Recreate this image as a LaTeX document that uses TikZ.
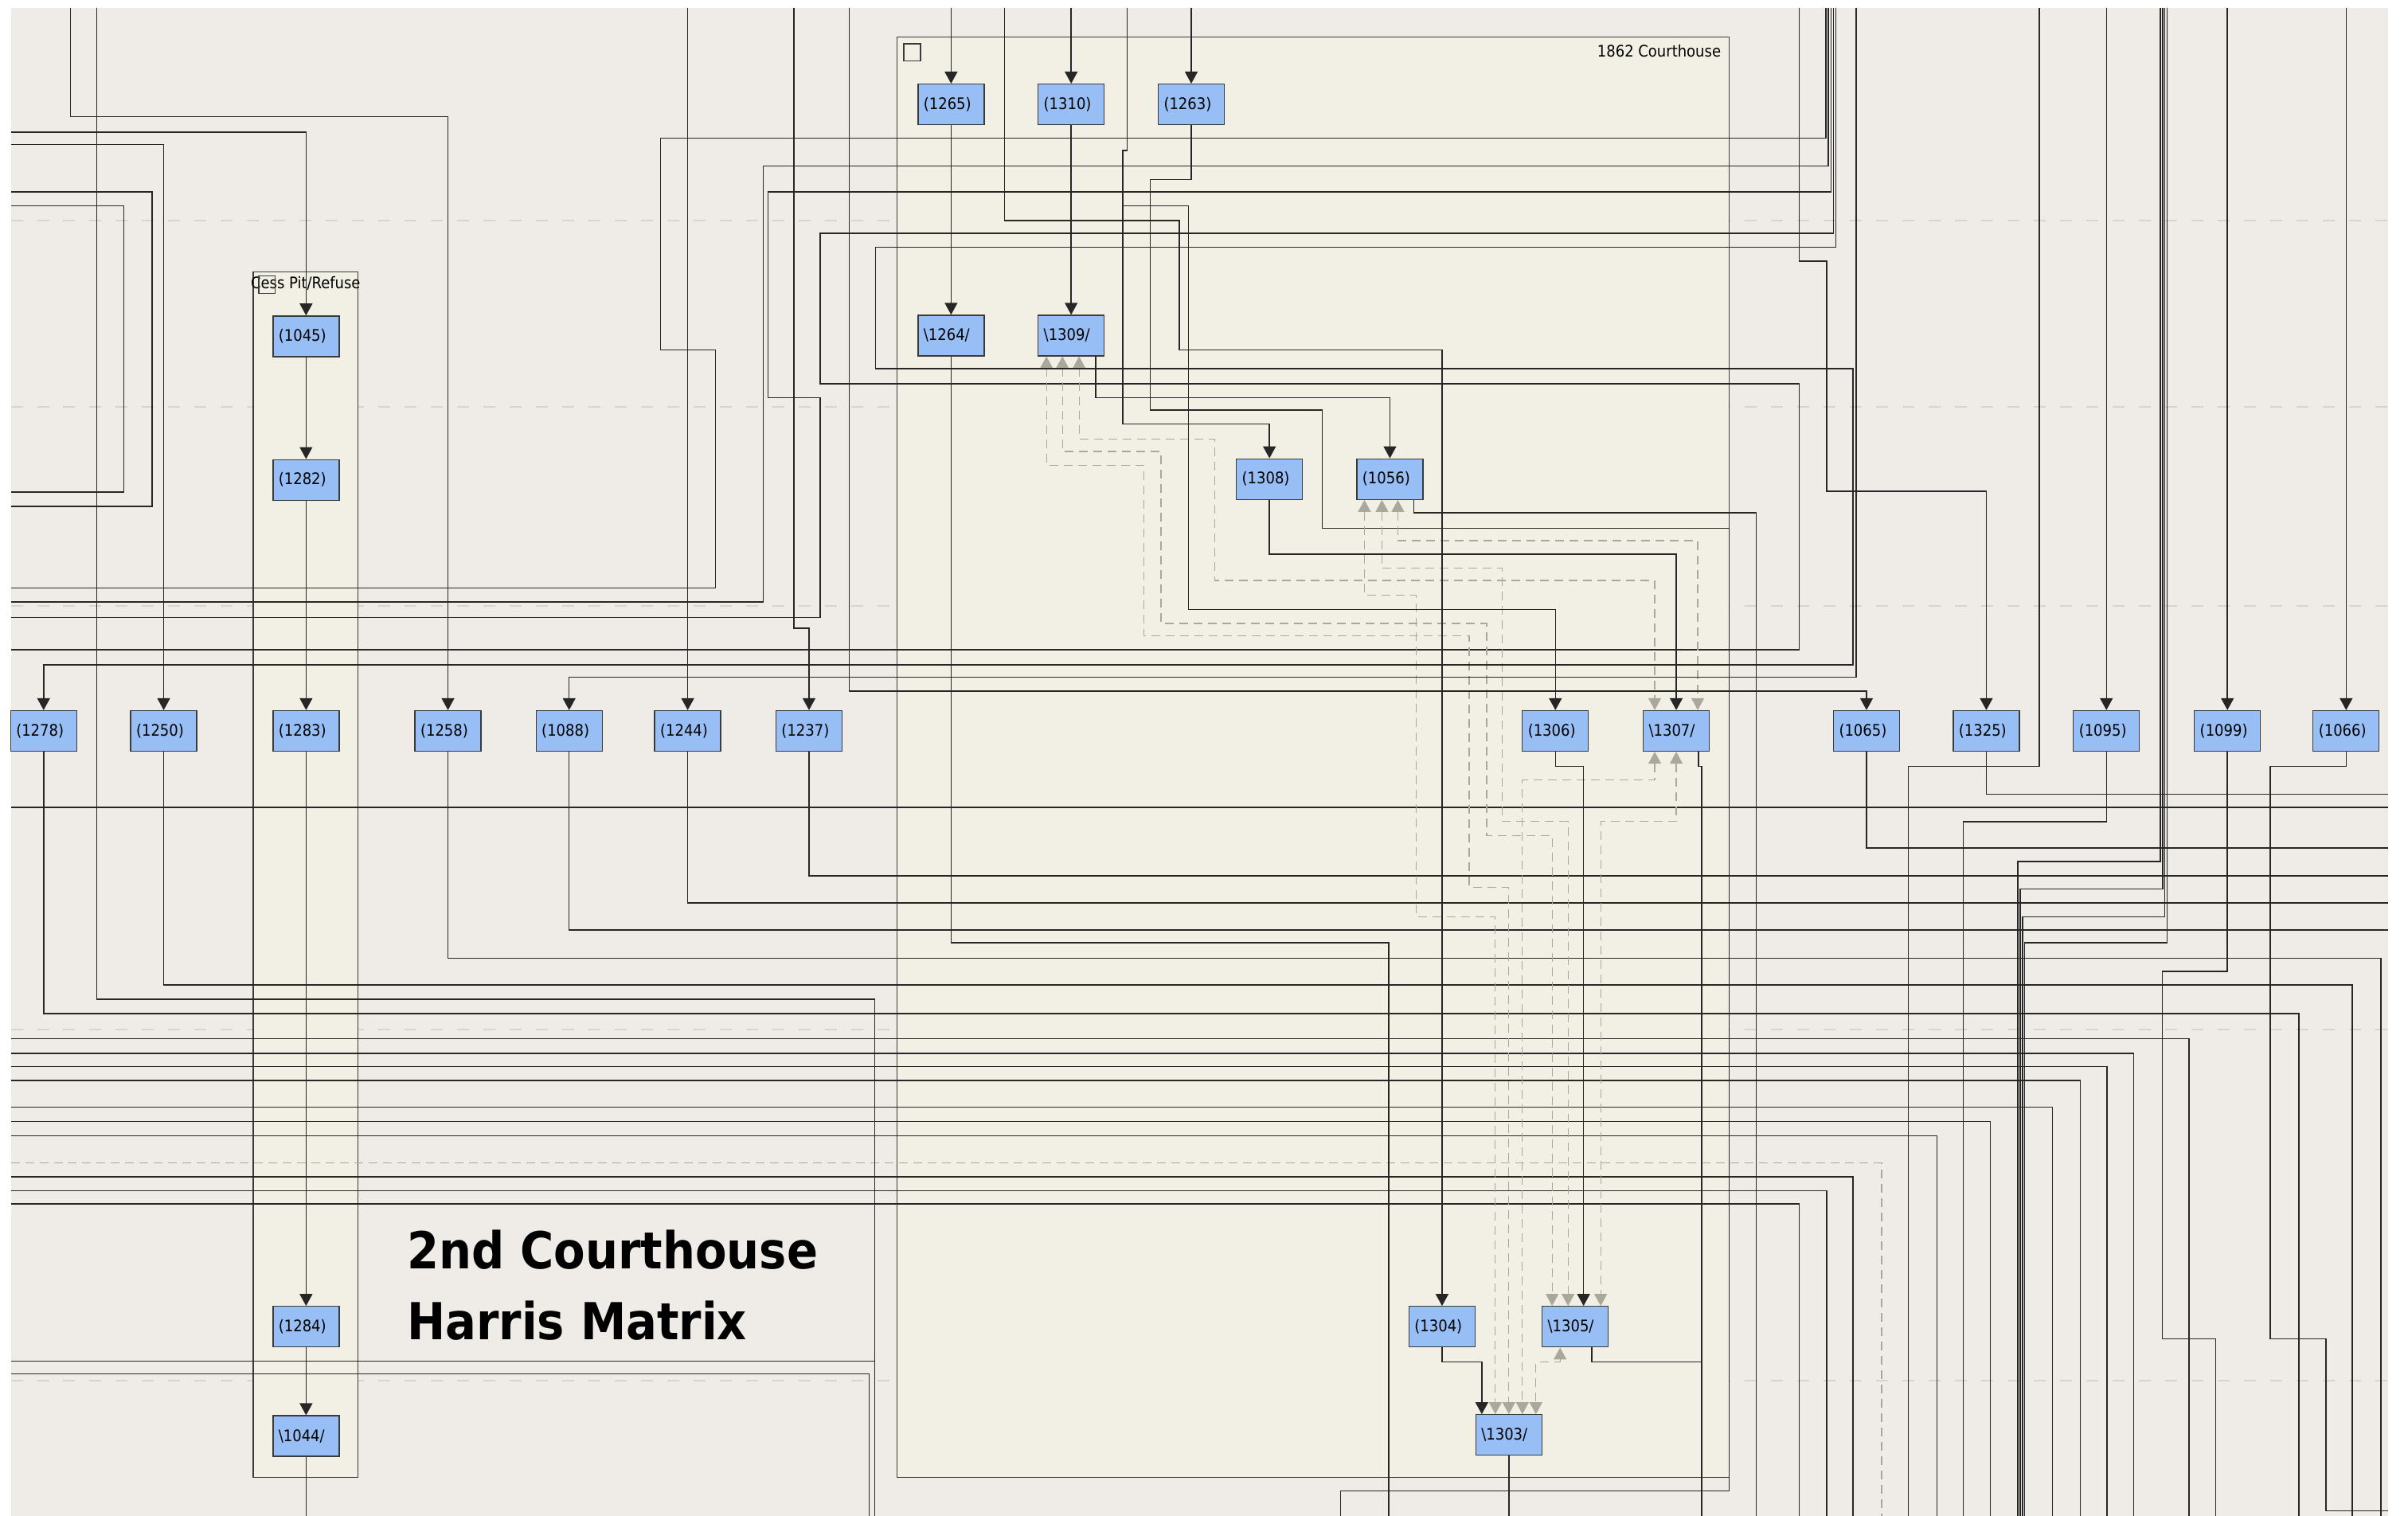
\documentclass[tikz,border=0pt]{standalone}
\usepackage{fontspec}
\usepackage{tikz}
\usetikzlibrary{arrows.meta,positioning,fit,calc}
\newfontfamily\labelfont{DejaVu Sans Condensed}
\newfontfamily\headfont{DejaVu Sans Condensed Bold}
\definecolor{paper}{HTML}{EFEBE6}
\definecolor{grpfill}{HTML}{F2F0E5}
\definecolor{boxfill}{HTML}{97BEF5}
\definecolor{boxline}{HTML}{3A3A3A}
\definecolor{wirecol}{HTML}{262626}
\definecolor{ghostcol}{HTML}{A9A89B}
\definecolor{bandcol}{HTML}{D6D4CC}
\tikzset{
  ctx/.style={draw=boxline,fill=boxfill,line width=1.3pt,text width=69pt,align=left,inner xsep=7pt,inner ysep=0pt,minimum height=51pt,font=\labelfont\fontsize{20}{22}\selectfont},
  grp/.style={draw=boxline,fill=grpfill,line width=1.5pt,inner sep=0pt},
  grplabel/.style={inner sep=0pt,font=\labelfont\fontsize{20}{22}\selectfont},
  wire/.style={draw=wirecol,line width=1.5pt},
  link/.style={wire,-{Triangle[length=15pt,width=16pt]}},
  ghost/.style={draw=ghostcol,line width=1.3pt,dash pattern=on 11pt off 7pt,{Triangle[length=15pt,width=16pt]}-{Triangle[length=15pt,width=16pt]}},
  ghostwire/.style={draw=ghostcol,line width=1.3pt,dash pattern=on 11pt off 7pt},
  band/.style={draw=bandcol,line width=2pt,dash pattern=on 15pt off 18pt},
  headline/.style={inner sep=0pt,anchor=base west,font=\headfont\fontsize{64}{89}\selectfont}
}

\begin{document}
\begin{tikzpicture}[x=1.9286pt,y=-1.9286pt]
  \useasboundingbox (0,0) rectangle (1568,987);
  \fill[white] (0,0) rectangle (1568,987);
  \fill[paper] (7,5) rectangle (1555,987);
  % phase bands
  \draw[band] (7,143.5) -- (1555,143.5);
  \draw[band] (7,265) -- (1555,265);
  \draw[band] (7,394.6) -- (1555,394.6);
  \draw[band] (7,670.3) -- (1555,670.3);
  \draw[band] (7,899) -- (1555,899);
  % groups
  \node[grp,fit={(584,24) (1126,962)}] (courthouse) {};
  \node[grp,fit={(165,177) (233,962)}] (cesspit) {};
  \node[grplabel,anchor=base east] (courthouselbl) at ([xshift=-11pt,yshift=-26pt]courthouse.north east) {1862 Courthouse};
  \draw[boxline,line width=1.3pt] (588.5,28.5) rectangle (599.4,39.8);
  \node[grplabel] (cesslbl) at ([yshift=-15pt]cesspit.north) {Cess Pit/Refuse};
  \draw[boxline,line width=1.3pt] (168.5,179.8) rectangle (179.2,191);
  \node[headline] (title) at (265,826) {2nd Courthouse};
  \node[headline] (subtitle) at ([yshift=-89pt]title.base west) {Harris Matrix};

  % contexts
  \node[ctx] (n1265) at (619.3,68) {(1265)};
  \node[ctx] (n1310) at (697.5,68) {(1310)};
  \node[ctx] (n1263) at (775.7,68) {(1263)};
  \node[ctx,below=238pt of n1265] (n1264) {\textbackslash1264/};
  \node[ctx,below=238pt of n1310] (n1309) {\textbackslash1309/};
  \node[ctx] (n1308) at (826.6,312) {(1308)};
  \node[ctx,right=67pt of n1308] (n1056) {(1056)};
  \node[ctx] (n1045) at (199.3,219) {(1045)};
  \node[ctx,below=128pt of n1045] (n1282) {(1282)};
  \node[ctx] (n1278) at (28.4,476) {(1278)};
  \node[ctx] (n1250) at (106.6,476) {(1250)};
  \node[ctx] (n1283) at (199.3,476) {(1283)};
  \node[ctx] (n1258) at (291.7,476) {(1258)};
  \node[ctx] (n1088) at (370.6,476) {(1088)};
  \node[ctx] (n1244) at (447.8,476) {(1244)};
  \node[ctx] (n1237) at (526.8,476) {(1237)};
  \node[ctx] (n1306) at (1012.8,476) {(1306)};
  \node[ctx] (n1307) at (1091.5,476) {\textbackslash1307/};
  \node[ctx] (n1065) at (1215.4,476) {(1065)};
  \node[ctx] (n1325) at (1293.4,476) {(1325)};
  \node[ctx] (n1095) at (1371.6,476) {(1095)};
  \node[ctx] (n1099) at (1450.4,476) {(1099)};
  \node[ctx] (n1066) at (1527.7,476) {(1066)};
  \node[ctx] (n1284) at (199.3,864) {(1284)};
  \node[ctx,below=85pt of n1284] (n1044) {\textbackslash1044/};
  \node[ctx] (n1304) at (939,864) {(1304)};
  \node[ctx] (n1305) at (1025.7,864) {\textbackslash1305/};
  \node[ctx] (n1303) at (982.5,934.5) {\textbackslash1303/};

  % off-sheet ends
  \coordinate (t46) at (46,5);  \coordinate (t63) at (63,5);  \coordinate (t448) at (447.8,5);
  \coordinate (t517) at (517,5);  \coordinate (t553) at (553,5);  \coordinate (t619) at (619.3,5);
  \coordinate (t654) at (654,5);  \coordinate (t697) at (697.5,5);  \coordinate (t734) at (734,5);
  \coordinate (t775) at (775.7,5);  \coordinate (t1172) at (1171.7,5);  \coordinate (t1189) at (1189,5);
  \coordinate (t1191) at (1190.6,5);  \coordinate (t1192) at (1192.2,5);  \coordinate (t1194) at (1193.8,5);
  \coordinate (t1195) at (1195.4,5);  \coordinate (t1208) at (1208.7,5);  \coordinate (t1328) at (1328,5);
  \coordinate (t1372) at (1371.6,5);  \coordinate (t1407) at (1406.8,5);  \coordinate (t1408) at (1408.2,5);
  \coordinate (t1410) at (1409.6,5);  \coordinate (t1411) at (1411,5);  \coordinate (t1450) at (1450.4,5);
  \coordinate (t1528) at (1527.7,5);
  \coordinate (w86) at (7,86);  \coordinate (w94) at (7,94);  \coordinate (w125) at (7,125);
  \coordinate (w134) at (7,134);  \coordinate (w320) at (7,320.5);  \coordinate (w330) at (7,329.7);
  \coordinate (w383) at (7,383);  \coordinate (w392) at (7,392);  \coordinate (w402) at (7,402);
  \coordinate (w423) at (7,423);  \coordinate (w526) at (7,525.8);  \coordinate (w676) at (7,676.4);
  \coordinate (w686) at (7,686);  \coordinate (w694) at (7,694.5);  \coordinate (w704) at (7,703.6);
  \coordinate (w721) at (7,721);  \coordinate (w730) at (7,730.3);  \coordinate (w740) at (7,739.7);
  \coordinate (w757) at (7,757.2);  \coordinate (w766) at (7,766.3);  \coordinate (w775) at (7,775.4);
  \coordinate (w784) at (7,784);  \coordinate (w886) at (7,886.3);  \coordinate (w895) at (7,894.8);
  \coordinate (e517) at (1555,517.2);  \coordinate (e526) at (1555,525.8);  \coordinate (e552) at (1555,552.3);
  \coordinate (e570) at (1555,570.4);  \coordinate (e588) at (1555,588);  \coordinate (e606) at (1555,605.5);
  \coordinate (e984) at (1555,984);
  \coordinate (b199) at (199.3,987);  \coordinate (b566) at (566,987);  \coordinate (b570) at (569.6,987);
  \coordinate (b873) at (873,987);  \coordinate (b904) at (904.3,987);  \coordinate (b982) at (982.5,987);
  \coordinate (b1108) at (1108,987);  \coordinate (b1144) at (1143.7,987);  \coordinate (b1172) at (1171.7,987);
  \coordinate (b1189) at (1189.4,987);  \coordinate (b1207) at (1206.7,987);  \coordinate (b1225) at (1225.2,987);
  \coordinate (b1243) at (1242.5,987);  \coordinate (b1261) at (1261.3,987);  \coordinate (b1278) at (1278.4,987);
  \coordinate (b1296) at (1296,987);  \coordinate (b1314) at (1314,987);  \coordinate (b1315) at (1315.5,987);
  \coordinate (b1317) at (1316.9,987);  \coordinate (b1318) at (1318.4,987);  \coordinate (b1337) at (1336.5,987);
  \coordinate (b1355) at (1354.7,987);  \coordinate (b1372) at (1372,987);  \coordinate (b1389) at (1389.4,987);
  \coordinate (b1426) at (1425.5,987);  \coordinate (b1443) at (1442.8,987);  \coordinate (b1497) at (1497,987);
  \coordinate (b1532) at (1531.8,987);  \coordinate (b1550) at (1550.3,987);
  \coordinate (split) at (731,134);

  % through-running wires
  \draw[wire] (w125) -| (99,329.7) -- (w330);
  \draw[wire] (w134) -| (80.6,320.5) -- (w320);
  \draw[wire] (w383) -| (466,228) -| (430,90) -| (t1189);
  \draw[wire] (w392) -| (497,108) -| (t1191);
  \draw[wire] (w402) -| (534,259) -| (500,125) -| (t1192);
  \draw[wire] (w423) -| (1171.7,250) -| (534,152) -| (t1194);
  \draw[wire] (w526) -- (e526);
  \draw[wire] (w676) -| (b1426);
  \draw[wire] (w686) -| (b1389);
  \draw[wire] (w694) -| (b1372);
  \draw[wire] (w704) -| (b1355);
  \draw[wire] (w721) -| (b1337);
  \draw[wire] (w730) -| (b1296);
  \draw[wire] (w740) -| (b1261);
  \draw[ghostwire] (w757) -| (b1225);
  \draw[wire] (w766) -| (b1207);
  \draw[wire] (w775) -| (b1189);
  \draw[wire] (w784) -| (b1172);
  \draw[wire] (w886) -| (b570);
  \draw[wire] (w895) -| (b566);
  \draw[wire] (t63) |- (300,650.7) -| (b570);
  \draw[wire] (t1328) |- (1300,499) -| (b1243);
  \draw[wire] (t1407) |- (1360,561) -| (b1314);
  \draw[wire] (t1408) |- (1360,579) -| (b1315);
  \draw[wire] (t1410) |- (1360,597) -| (b1317);
  \draw[wire] (t1411) |- (1360,614) -| (b1318);

  % wires leaving contexts
  \draw[wire] (n1263.south) |- (749,117) |- (861,267) |- (1126,344) |- (873,971) -- (b873);
  \draw[wire] (n1264.south) |- (800,614) -| (b904);
  \draw[wire] ([xshift=30pt]n1056.south) |- (1143.7,334) -- (b1144);
  \draw[wire] ([xshift=28pt]n1307.south) |- (1108,499) -- (b1108);
  \draw[wire] ([xshift=21pt]n1305.south) |- (1108,887);
  \draw[wire] (n1303) -- (b982);
  \draw[wire] (n1044) -- (b199);
  \draw[wire] (n1278.south) |- (800,660) -| (b1497);
  \draw[wire] (n1250.south) |- (800,641.5) -| (b1532);
  \draw[wire] (n1258.south) |- (800,624) -| (b1550);
  \draw[wire] (n1088.south) |- (e606);
  \draw[wire] (n1244.south) |- (e588);
  \draw[wire] (n1237.south) |- (e570);
  \draw[wire] (n1065.south) |- (e552);
  \draw[wire] (n1325.south) |- (e517);
  \draw[wire] (n1095.south) |- (1300,535) -| (b1278);
  \draw[wire] (n1099.south) |- (1420,632.7) -| (1408,872) -| (b1443);
  \draw[wire] (n1066.south) |- (1500,499) -| (1478.4,872) -| (1514.5,984) -- (e984);

  % dashed relations
  \draw[ghost] ([xshift=-31pt]n1309.south) |- (745,303) |- (956.7,414) -- (956.7,578) -| (n1303.north);
  \draw[ghost] ([xshift=-11pt]n1309.south) |- (756,294) |- (968,406) -- (968,544) -| ([xshift=-29pt]n1305.north);
  \draw[ghost] ([xshift=10pt]n1309.south) |- (791,286) -- (791,378) -| ([xshift=-27pt]n1307.north);
  \draw[ghost] ([xshift=-32pt]n1056.south) |- (922,387.5) -- (922,597) -| ([xshift=-17pt]n1303.north);
  \draw[ghost] ([xshift=-10pt]n1056.south) |- (978.3,370) -- (978.3,535) -| ([xshift=-9pt]n1305.north);
  \draw[ghost] ([xshift=10pt]n1056.south) |- (1000,352) -| ([xshift=27pt]n1307.north);
  \draw[ghost] ([xshift=-27pt]n1307.south) |- (1030,507.8) -| ([xshift=17pt]n1303.north);
  \draw[ghost] (n1307.south) |- (1060,535) -| ([xshift=32pt]n1305.north);
  \draw[ghost] ([xshift=-19pt]n1305.south) |- (1008,887) -| ([xshift=34pt]n1303.north);

  % arrows into contexts
  \draw[link] (t619) -- (n1265.north);
  \draw[link] (t697) -- (n1310.north);
  \draw[link] (t775) -- (n1263.north);
  \draw[link] (n1265) -- (n1264);
  \draw[link] (n1310) -- (n1309);
  \draw[link] (t448) -- (n1244.north);
  \draw[link] (t1372) -- (n1095.north);
  \draw[link] (t1450) -- (n1099.north);
  \draw[link] (t1528) -- (n1066.north);
  \draw[link] (t46) |- (200,76) -| (n1258.north);
  \draw[link] (w86) -| (n1045.north);
  \draw[link] (w94) -| (n1250.north);
  \draw[link] (n1045) -- (n1282);
  \draw[link] (n1282) -- (n1283);
  \draw[link] (n1283) -- (n1284);
  \draw[link] (n1284) -- (n1044);
  \draw[link] (t517) |- (522,409) -| (n1237.north);
  \draw[link] (t553) |- (900,450) -| (n1065.north);
  \draw[link] (t1208) |- (800,441) -| (n1088.north);
  \draw[link] (t1195) |- (570,161) |- (1206.7,240) |- (600,433) -| (n1278.north);
  \draw[link] (t1172) |- (1189.4,170) -- (1189.4,320) -| (n1325.north);
  \draw[link] (t734) |- (731,98) -- (731,276) -| (n1308.north);
  \draw[link] (split) -| (774,397) -| (n1306.north);
  \draw[link] (t654) |- (768,143.5) |- (850,228) -| (n1304.north);
  \draw[link] ([xshift=31pt]n1309.south) |- (800,259) -| (n1056.north);
  \draw[link] (n1308.south) |- (1000,361) -| (n1307.north);
  \draw[link] (n1306.south) |- (1020,499) -| ([xshift=10.5pt]n1305.north);
  \draw[link] (n1304.south) |- (950,887) -| ([xshift=-34pt]n1303.north);
\end{tikzpicture}
\end{document}
